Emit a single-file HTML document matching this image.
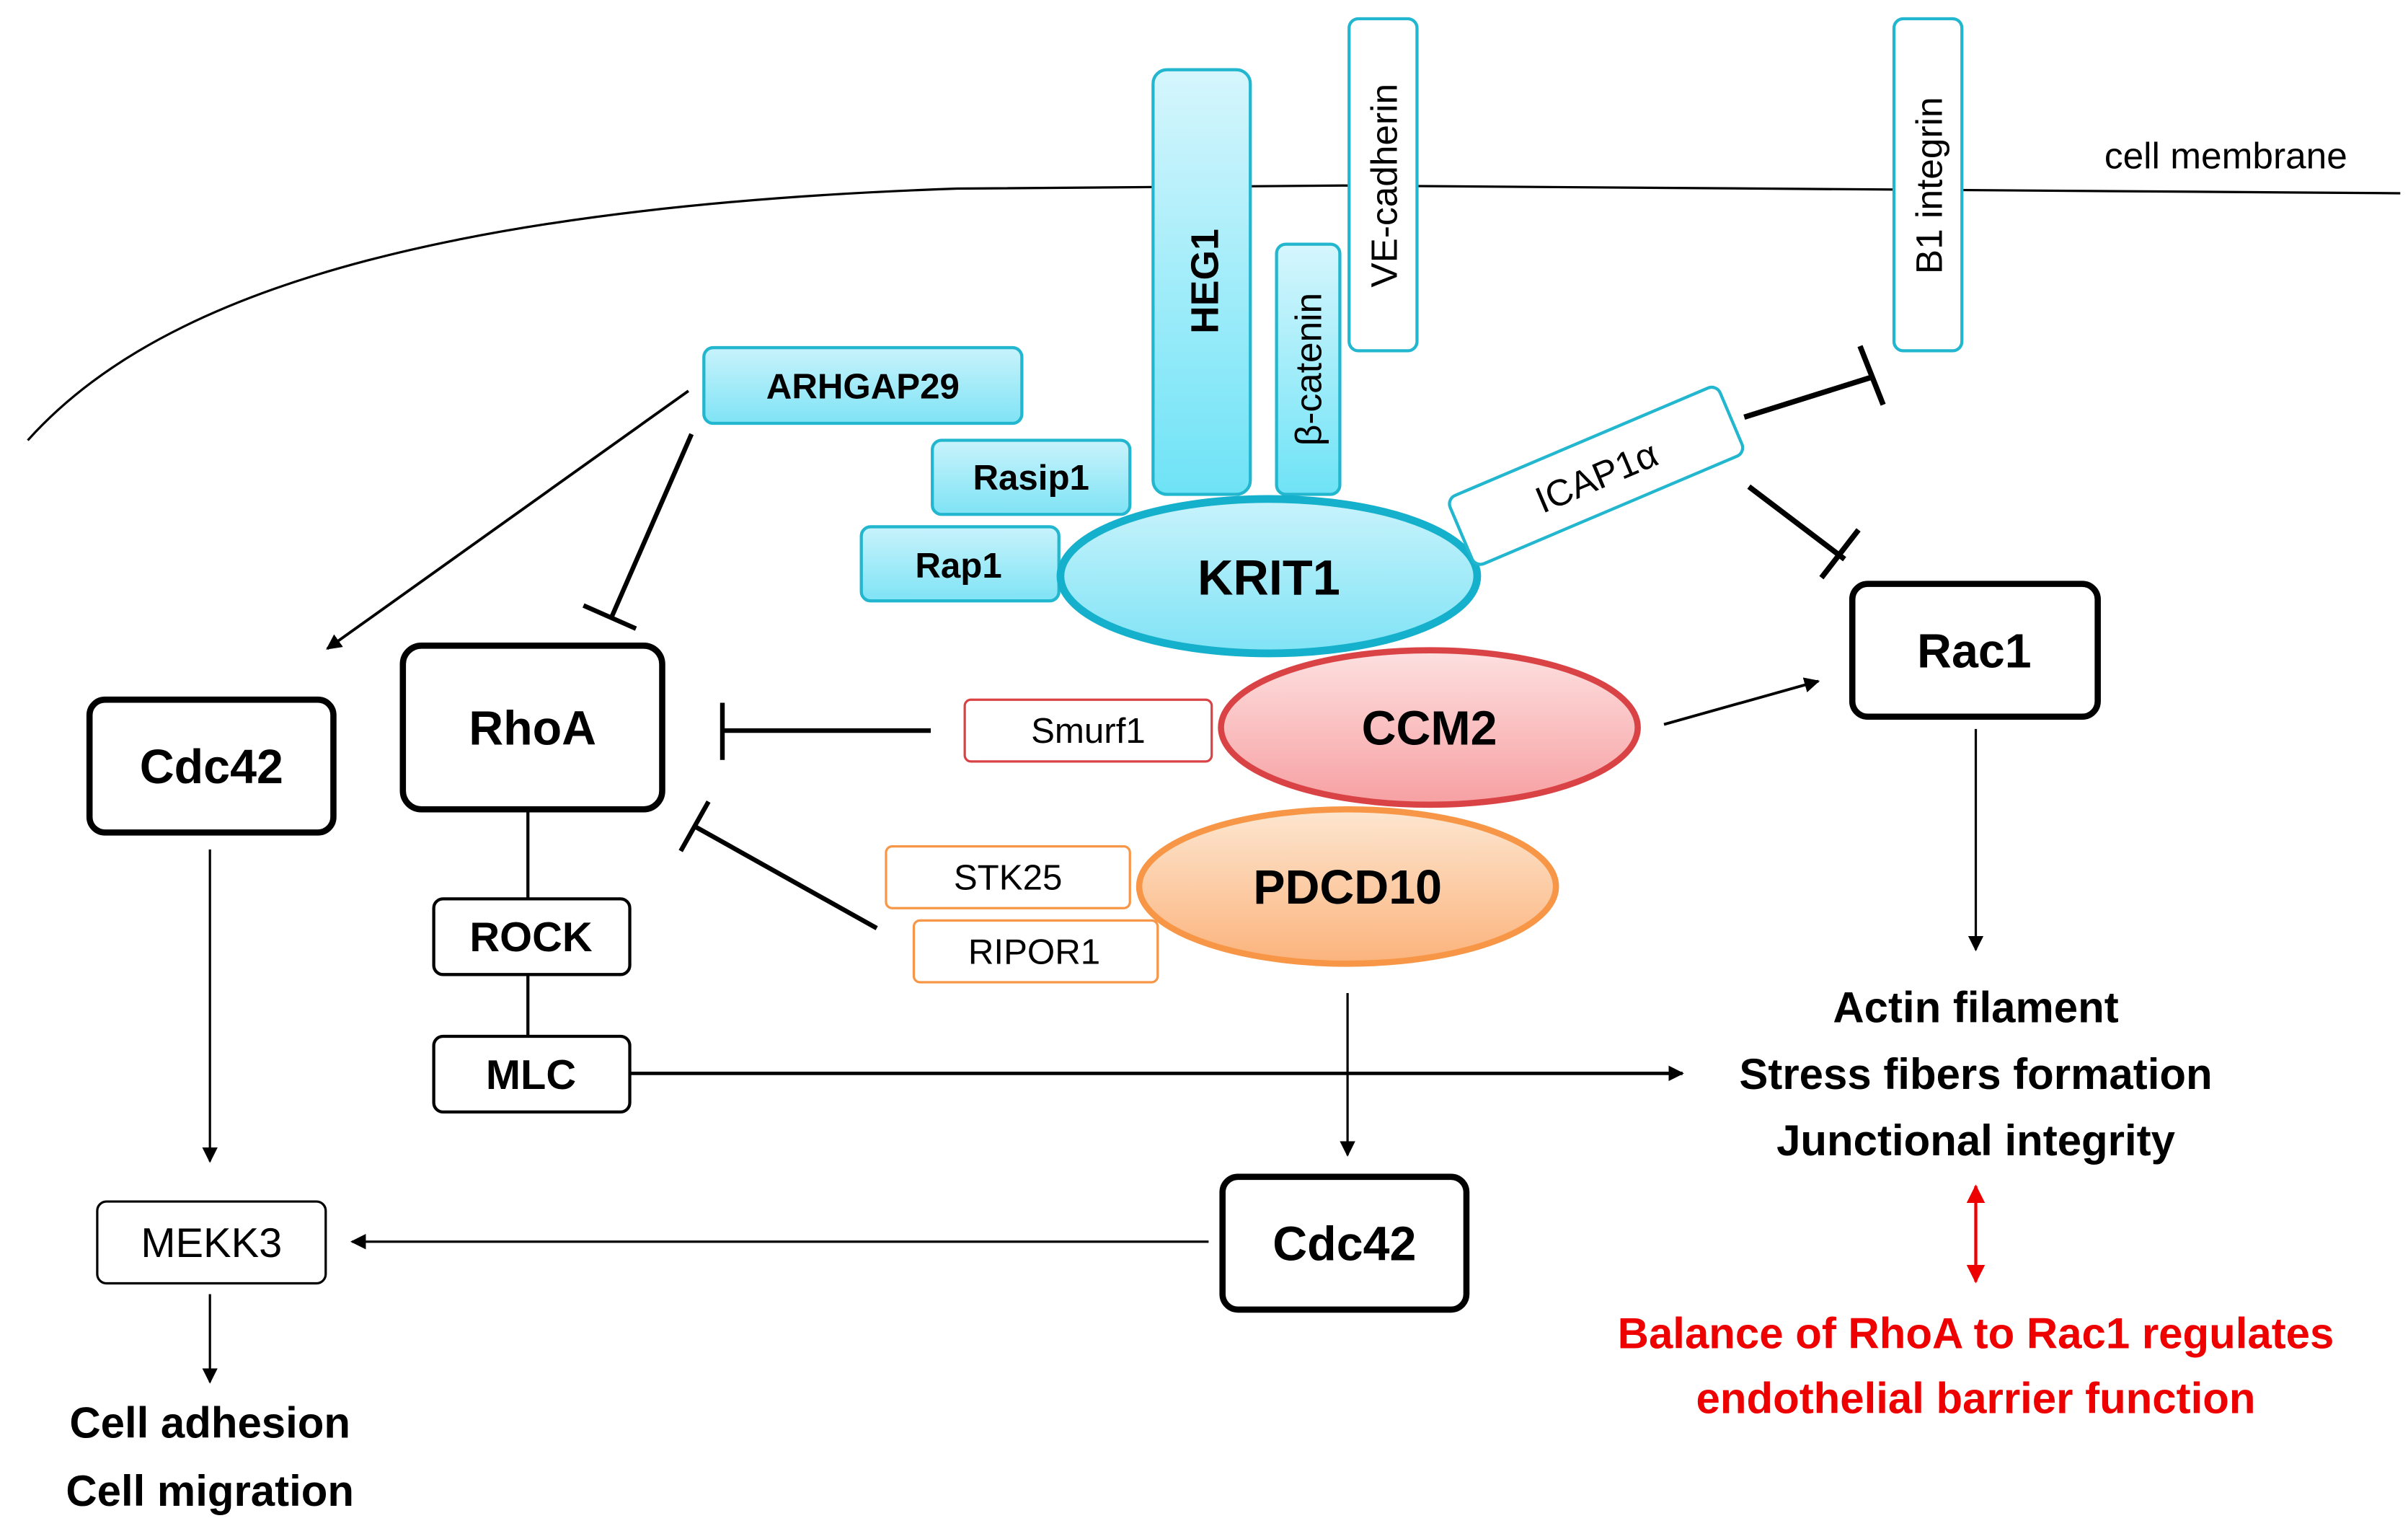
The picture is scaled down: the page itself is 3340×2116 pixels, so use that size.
<!DOCTYPE html>
<html><head><meta charset="utf-8"><style>
html,body{margin:0;padding:0;background:#fff;}
svg{display:block;}
text{font-family:"Liberation Sans Narrow","Liberation Sans",sans-serif;}
</style></head><body>
<svg width="3340" height="2116" viewBox="0 0 1560 988" xmlns="http://www.w3.org/2000/svg">
<defs>
<linearGradient id="cy" x1="0" y1="0" x2="0" y2="1"><stop offset="0" stop-color="#d6f6fd"/><stop offset="1" stop-color="#6ee3f6"/></linearGradient>
<linearGradient id="cy2" x1="0" y1="0" x2="0" y2="1"><stop offset="0" stop-color="#c8f3fc"/><stop offset="1" stop-color="#7fe3f5"/></linearGradient>
<linearGradient id="rd" x1="0" y1="0" x2="0" y2="1"><stop offset="0" stop-color="#fde0e0"/><stop offset="1" stop-color="#f7a0a2"/></linearGradient>
<linearGradient id="or" x1="0" y1="0" x2="0" y2="1"><stop offset="0" stop-color="#fde6d0"/><stop offset="1" stop-color="#fbb37c"/></linearGradient>
<marker id="ah" markerWidth="10" markerHeight="10" refX="9" refY="5" orient="auto" markerUnits="userSpaceOnUse"><path d="M0,0 L10,5 L0,10 z" fill="#000"/></marker>
<marker id="rh" markerWidth="12" markerHeight="12" refX="11" refY="6" orient="auto-start-reverse" markerUnits="userSpaceOnUse"><path d="M0,0 L12,6 L0,12 z" fill="#e00"/></marker>
</defs>
<g fill="none" stroke="#000" stroke-width="1.5">
<path d="M18,285 C90,205 240,135 620,122 L870,120 L1555,125"/>
</g>
<text x="1442" y="109" font-size="24" text-anchor="middle">cell membrane</text>

<rect x="747" y="45" width="63" height="275" rx="9" fill="url(#cy)" stroke="#22b6cf" stroke-width="2"/>
<text transform="translate(789,182) rotate(-90)" font-size="25" font-weight="bold" text-anchor="middle">HEG1</text>
<rect x="874" y="12" width="44" height="215" rx="6" fill="#fff" stroke="#22b6cf" stroke-width="2"/>
<text transform="translate(905,120) rotate(-90)" font-size="24" text-anchor="middle">VE-cadherin</text>
<rect x="827" y="158" width="41" height="162" rx="6" fill="url(#cy)" stroke="#22b6cf" stroke-width="2"/>
<text transform="translate(856,239) rotate(-90)" font-size="24" text-anchor="middle">β-catenin</text>
<rect x="1227" y="12" width="44" height="215" rx="6" fill="#fff" stroke="#22b6cf" stroke-width="2"/>
<text transform="translate(1258,120) rotate(-90)" font-size="24" text-anchor="middle">B1 integrin</text>

<rect x="456" y="225" width="206" height="49" rx="6" fill="url(#cy2)" stroke="#22b6cf" stroke-width="2"/>
<text x="559" y="258" font-size="23" font-weight="bold" text-anchor="middle">ARHGAP29</text>
<rect x="604" y="285" width="128" height="48" rx="6" fill="url(#cy2)" stroke="#22b6cf" stroke-width="2"/>
<text x="668" y="317" font-size="23" font-weight="bold" text-anchor="middle">Rasip1</text>
<rect x="558" y="341" width="128" height="48" rx="6" fill="url(#cy2)" stroke="#22b6cf" stroke-width="2"/>
<text x="621" y="374" font-size="23" font-weight="bold" text-anchor="middle">Rap1</text>

<ellipse cx="822" cy="373" rx="135" ry="50" fill="url(#cy2)" stroke="#15b0cc" stroke-width="5"/>
<text x="822" y="385" font-size="32" font-weight="bold" text-anchor="middle">KRIT1</text>

<g transform="translate(1034,308) rotate(-23)">
<rect x="-95" y="-24" width="190" height="48" rx="6" fill="#fff" stroke="#22b6cf" stroke-width="2"/>
<text x="0" y="9" font-size="24" text-anchor="middle">ICAP1α</text>
</g>
<g stroke="#000" stroke-width="3.5" fill="none">
<line x1="1130" y1="270" x2="1213" y2="244"/>
<line x1="1205" y1="224" x2="1220" y2="262"/>
<line x1="1133" y1="315" x2="1195" y2="362"/>
<line x1="1180" y1="374" x2="1204" y2="343"/>
</g>

<rect x="1200" y="378" width="159" height="86" rx="10" fill="#fff" stroke="#000" stroke-width="4"/>
<text x="1279" y="432" font-size="31" font-weight="bold" text-anchor="middle">Rac1</text>

<ellipse cx="926" cy="471" rx="135" ry="50" fill="url(#rd)" stroke="#d94345" stroke-width="4"/>
<text x="926" y="482" font-size="31" font-weight="bold" text-anchor="middle">CCM2</text>
<rect x="625" y="453" width="160" height="40" rx="4" fill="#fff" stroke="#d94345" stroke-width="1.5"/>
<text x="705" y="481" font-size="23" text-anchor="middle">Smurf1</text>
<line x1="1078" y1="469" x2="1178" y2="441" stroke="#000" stroke-width="1.8" marker-end="url(#ah)"/>

<rect x="261" y="418" width="168" height="106" rx="12" fill="#fff" stroke="#000" stroke-width="4"/>
<text x="345" y="482" font-size="31" font-weight="bold" text-anchor="middle">RhoA</text>
<g stroke="#000" stroke-width="3" fill="none">
<line x1="603" y1="473" x2="468" y2="473"/>
<line x1="468" y1="455" x2="468" y2="492"/>
<line x1="568" y1="601" x2="450" y2="535"/>
<line x1="441" y1="551" x2="459" y2="519"/>
</g>

<ellipse cx="873" cy="574" rx="135" ry="50" fill="url(#or)" stroke="#f79646" stroke-width="4"/>
<text x="873" y="585" font-size="31" font-weight="bold" text-anchor="middle">PDCD10</text>
<rect x="574" y="548" width="158" height="40" rx="4" fill="#fff" stroke="#f79646" stroke-width="1.5"/>
<text x="653" y="576" font-size="23" text-anchor="middle">STK25</text>
<rect x="592" y="596" width="158" height="40" rx="4" fill="#fff" stroke="#f79646" stroke-width="1.5"/>
<text x="670" y="624" font-size="23" text-anchor="middle">RIPOR1</text>

<g stroke="#000" stroke-width="2">
<line x1="342" y1="524" x2="342" y2="582"/>
<line x1="342" y1="631" x2="342" y2="671"/>
</g>
<rect x="281" y="582" width="127" height="49" rx="6" fill="#fff" stroke="#000" stroke-width="2"/>
<text x="344" y="616" font-size="27" font-weight="bold" text-anchor="middle">ROCK</text>
<rect x="281" y="671" width="127" height="49" rx="6" fill="#fff" stroke="#000" stroke-width="2"/>
<text x="344" y="705" font-size="27" font-weight="bold" text-anchor="middle">MLC</text>
<line x1="408" y1="695" x2="1090" y2="695" stroke="#000" stroke-width="2.2" marker-end="url(#ah)"/>

<rect x="58" y="453" width="158" height="86" rx="10" fill="#fff" stroke="#000" stroke-width="4"/>
<text x="137" y="507" font-size="31" font-weight="bold" text-anchor="middle">Cdc42</text>
<line x1="446" y1="253" x2="212" y2="420" stroke="#000" stroke-width="1.8" marker-end="url(#ah)"/>
<g stroke="#000" stroke-width="3"><line x1="448" y1="281" x2="396" y2="400"/><line x1="378" y1="392" x2="412" y2="407"/></g>
<line x1="136" y1="550" x2="136" y2="752" stroke="#000" stroke-width="1.5" marker-end="url(#ah)"/>
<rect x="63" y="778" width="148" height="53" rx="6" fill="#fff" stroke="#000" stroke-width="1.5"/>
<text x="137" y="814" font-size="27" text-anchor="middle">MEKK3</text>
<line x1="783" y1="804" x2="228" y2="804" stroke="#000" stroke-width="1.5" marker-end="url(#ah)"/>
<line x1="136" y1="838" x2="136" y2="895" stroke="#000" stroke-width="1.5" marker-end="url(#ah)"/>
<text x="136" y="931" font-size="28" font-weight="bold" text-anchor="middle">Cell adhesion</text>
<text x="136" y="975" font-size="28" font-weight="bold" text-anchor="middle">Cell migration</text>

<rect x="792" y="762" width="158" height="86" rx="10" fill="#fff" stroke="#000" stroke-width="4"/>
<text x="871" y="816" font-size="31" font-weight="bold" text-anchor="middle">Cdc42</text>
<line x1="873" y1="643" x2="873" y2="748" stroke="#000" stroke-width="1.5" marker-end="url(#ah)"/>
<line x1="1280" y1="472" x2="1280" y2="615" stroke="#000" stroke-width="1.5" marker-end="url(#ah)"/>

<text x="1280" y="662" font-size="28" font-weight="bold" text-anchor="middle">Actin filament</text>
<text x="1280" y="705" font-size="28" font-weight="bold" text-anchor="middle">Stress fibers formation</text>
<text x="1280" y="748" font-size="28" font-weight="bold" text-anchor="middle">Junctional integrity</text>
<line x1="1280" y1="768" x2="1280" y2="830" stroke="#e00" stroke-width="2" marker-start="url(#rh)" marker-end="url(#rh)"/>
<text x="1280" y="873" font-size="28" font-weight="bold" fill="#e00" text-anchor="middle">Balance of RhoA to Rac1 regulates</text>
<text x="1280" y="915" font-size="28" font-weight="bold" fill="#e00" text-anchor="middle">endothelial barrier function</text>
</svg>
</body></html>
